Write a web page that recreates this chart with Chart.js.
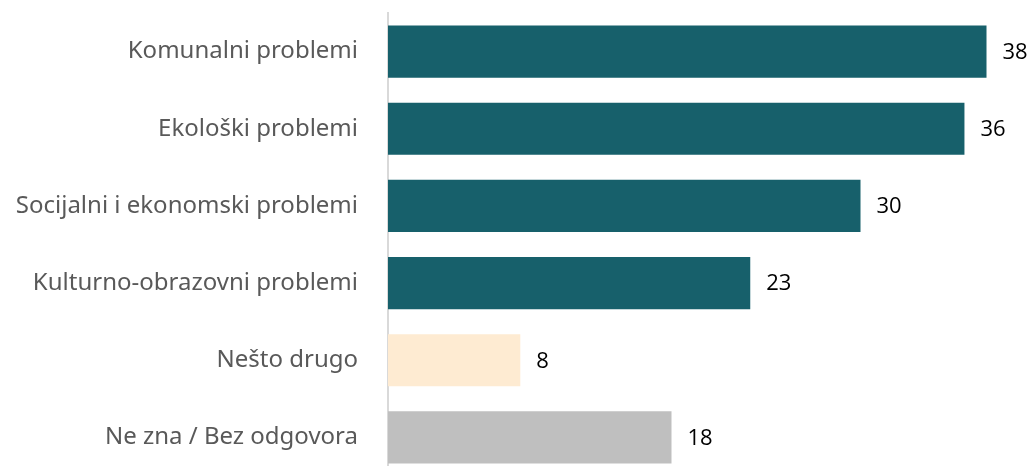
<!DOCTYPE html>
<html>
<head>
<meta charset="utf-8">
<script src="https://cdn.jsdelivr.net/npm/chart.js@4"></script>
<style>
    html, body { margin: 0; padding: 0; background: #fff; overflow: hidden; }
    #wrap { width: 1030px; height: 476px; position: relative; }
</style>
</head>
<body>
<div id="wrap"><canvas id="chart"></canvas></div>
<script>
// Categories and values
const categories = [
    'Komunalni problemi',
    'Ekološki problemi',
    'Socijalni i ekonomski problemi',
    'Kulturno-obrazovni problemi',
    'Nešto drugo',
    'Ne zna / Bez odgovora'
];
const barValues = [38, 36.6, 30, 23, 8.4, 18];
const valueLabels = ['38', '36', '30', '23', '8', '18'];
const barColors = ['#17606b', '#17606b', '#17606b', '#17606b', '#feebd2', '#bfbfbf'];

// Draw the value next to each bar end
const valueLabelPlugin = {
    id: 'valueLabels',
    afterDatasetsDraw(chart) {
        const ctx = chart.ctx;
        const meta = chart.getDatasetMeta(0);
        ctx.save();
        ctx.font = '22px "Open Sans", sans-serif';
        ctx.fillStyle = '#000';
        ctx.textAlign = 'left';
        ctx.textBaseline = 'middle';
        meta.data.forEach((bar, i) => {
            ctx.fillText(valueLabels[i], bar.x + 16, bar.y + 1);
        });
        ctx.restore();
    }
};

new Chart(document.getElementById('chart'), {
    type: 'bar',
    data: {
        labels: categories,
        datasets: [{
            data: barValues,
            backgroundColor: barColors,
            barPercentage: 0.675,
            categoryPercentage: 1
        }]
    },
    options: {
        indexAxis: 'y',
        responsive: true,
        maintainAspectRatio: false,
        animation: false,
        layout: { padding: { top: 13, right: 12, bottom: 0, left: 0 } },
        plugins: {
            legend: { display: false },
            tooltip: { enabled: false }
        },
        scales: {
            x: {
                display: false,
                min: 0,
                max: 40
            },
            y: {
                afterFit(scale) {
                    scale.width = 388;
                    scale.paddingTop = 0;
                    scale.paddingBottom = 0;
                },
                grid: { display: false },
                border: { display: true, color: '#d9d9d9', width: 2 },
                ticks: {
                    color: '#595959',
                    padding: 22,
                    font: { family: '"Noto Sans", sans-serif', size: 24 }
                }
            }
        }
    },
    plugins: [valueLabelPlugin]
});
</script>
</body>
</html>
